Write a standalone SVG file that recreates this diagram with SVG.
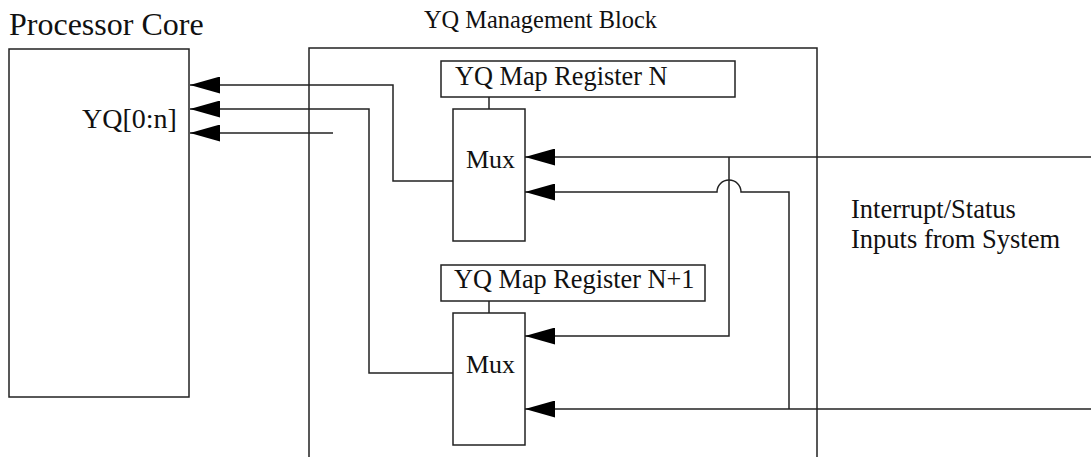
<svg xmlns="http://www.w3.org/2000/svg" width="1091" height="457" viewBox="0 0 1091 457">
<style>
.box{fill:#fff;stroke:#222;stroke-width:1.5}
.ln{fill:none;stroke:#222;stroke-width:1.5}
.t{font-family:'Liberation Serif','DejaVu Serif',serif;fill:#111}
</style>
<defs>
<marker id="arr" markerWidth="30" markerHeight="17" refX="30" refY="8.5" orient="auto" markerUnits="userSpaceOnUse" viewBox="0 0 30 17"><path d="M0,0 L30,8.5 L0,17 z" fill="#000"/></marker>
</defs>
<rect width="1091" height="457" fill="#fff"/>
<g id="processor-core">
<rect class="box" x="9" y="49" width="180" height="348"/>
<text class="t" x="9" y="35" font-size="32">Processor Core</text>
<text class="t" x="82" y="128" font-size="28">YQ[0:n]</text>
</g>
<g id="management-block">
<path class="ln" d="M309,458 V48 H817 V458"/>
<text class="t" x="424" y="28" font-size="24.4">YQ Management Block</text>
</g>
<g id="reg-n">
<rect class="box" x="441" y="61" width="294" height="36"/>
<text class="t" x="455" y="85" font-size="26.3">YQ Map Register N</text>
</g>
<g id="mux-1">
<rect class="box" x="453" y="109" width="72" height="132"/>
<text class="t" x="466" y="168" font-size="26">Mux</text>
</g>
<g id="reg-n1">
<rect class="box" x="441" y="265" width="264" height="36"/>
<text class="t" x="454" y="288" font-size="26.3">YQ Map Register N+1</text>
</g>
<g id="mux-2">
<rect class="box" x="453" y="313" width="72" height="132"/>
<text class="t" x="466" y="373" font-size="26">Mux</text>
</g>
<g id="inputs-label">
<text class="t" x="851" y="218" font-size="26.5">Interrupt/Status</text>
<text class="t" x="851" y="248" font-size="26.5">Inputs from System</text>
</g>
<g id="connectors">
<path class="ln" d="M453,181 H393 V85 H190" marker-end="url(#arr)"/>
<path class="ln" d="M453,373 H369 V109 H190" marker-end="url(#arr)"/>
<path class="ln" d="M333,133 H190" marker-end="url(#arr)"/>
<path class="ln" d="M1091,157 H525" marker-end="url(#arr)"/>
<path class="ln" d="M729,157 V336 H525" marker-end="url(#arr)"/>
<path class="ln" d="M1091,409 H525" marker-end="url(#arr)"/>
<path class="ln" d="M789,409 V192 H741 A12,12 0 0 0 717,192 H525" marker-end="url(#arr)"/>
<path class="ln" d="M489,97 V109"/>
<path class="ln" d="M489,301 V313"/>
</g>
</svg>
